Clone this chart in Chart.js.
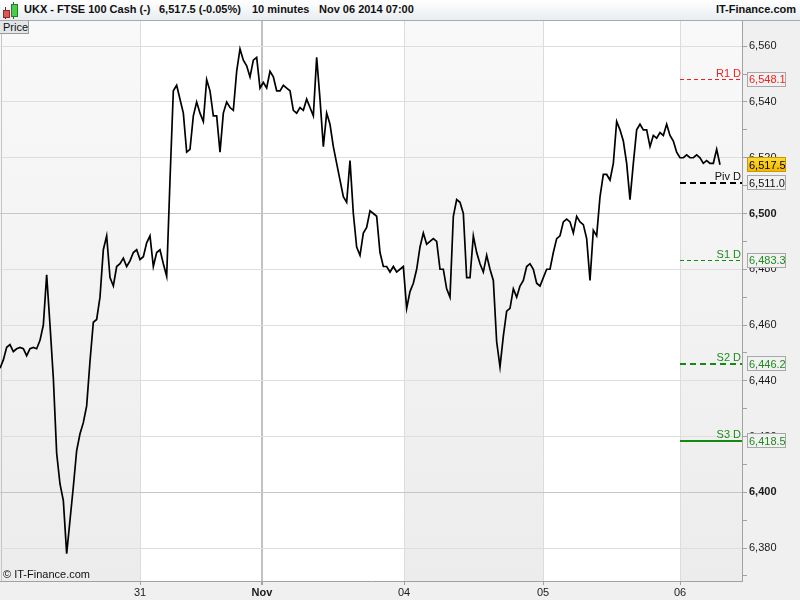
<!DOCTYPE html>
<html>
<head>
<meta charset="utf-8">
<title>UKX - FTSE 100 Cash</title>
<script src="https://cdn.jsdelivr.net/npm/chart.js@4.4.0/dist/chart.umd.min.js"></script>
<style>
  body { margin: 0; background: #f0f0f0; font-family: "Liberation Sans", Arial, sans-serif; }
  #wrap { position: relative; width: 800px; height: 600px; overflow: hidden; }
  #chart { position: absolute; left: 0; top: 0; }
  #head { position: absolute; left: 0; top: 0; width: 800px; height: 21px; box-sizing: border-box;
          background: linear-gradient(#ffffff, #e9edf0); border-bottom: 1px solid #a9a9a9;
          font-size: 11px; font-weight: bold; color: #111; }
  #head span { position: absolute; top: 3px; white-space: nowrap; }
  .candle { position: absolute; }
  #price-tag { position: absolute; left: 0; top: 21px; width: 29px; height: 13px; background: #e3e6e9;
               border-right: 1px solid #9a9a9a; border-bottom: 1px solid #9a9a9a;
               font-size: 11px; line-height: 13px; padding-left: 3px; box-sizing: border-box; color: #111; }
  #copy { position: absolute; left: 3px; top: 568px; font-size: 11px; color: #111; }
</style>
</head>
<body>
<div id="wrap">
  <canvas id="chart" width="800" height="600"></canvas>
  <div id="head">
    <div class="candle" style="left:5px;top:7px;width:1px;height:12px;background:#7a2020"></div>
    <div class="candle" style="left:3px;top:10px;width:5px;height:6px;background:#e05555;border:1px solid #8a2a2a"></div>
    <div class="candle" style="left:13px;top:2px;width:1px;height:17px;background:#1f6a1f"></div>
    <div class="candle" style="left:11px;top:4px;width:5px;height:11px;background:#4ccc4c;border:1px solid #2a7a2a"></div>
    <span style="left:24px">UKX - FTSE 100 Cash (-)</span>
    <span style="left:159px">6,517.5 (-0.05%)</span>
    <span style="left:252px">10 minutes</span>
    <span style="left:319px">Nov 06 2014 07:00</span>
    <span style="right:4px">IT-Finance.com</span>
  </div>
  <div id="price-tag">Price</div>
  <div id="copy">© IT-Finance.com</div>
</div>
<script>
// 10-minute closes, one value every ~3.3 px
var price = [
  6444.5, 6447.5, 6452, 6453, 6450.5, 6451.5, 6452, 6451.5, 6449, 6451.5,
  6452, 6451.5, 6454.5, 6460, 6478, 6460, 6441, 6414, 6403, 6397,
  6378, 6390, 6402, 6415, 6421, 6425, 6431, 6447, 6461, 6462,
  6470, 6487, 6492, 6477, 6474, 6481, 6482, 6484, 6481, 6483,
  6486, 6487, 6483.5, 6484.5, 6489.5, 6492, 6481, 6486, 6487, 6482,
  6477.5, 6512, 6544, 6546, 6541, 6536, 6522, 6523, 6535, 6540,
  6536, 6533, 6548, 6544, 6535, 6535, 6522, 6536, 6540, 6538,
  6537, 6551, 6559, 6555, 6553, 6549, 6555, 6556, 6545, 6547,
  6545, 6551, 6549, 6544, 6544, 6546, 6545, 6544, 6537, 6536,
  6538, 6537, 6541, 6538, 6535, 6556, 6541, 6524, 6536, 6532,
  6524, 6518, 6512, 6506, 6504, 6519, 6500, 6488, 6485, 6493,
  6495, 6501, 6500, 6499, 6486, 6481, 6481, 6479, 6481, 6479,
  6480, 6481, 6466, 6472, 6475, 6480, 6488, 6493, 6489, 6490,
  6491, 6490, 6480, 6480, 6473, 6470, 6499, 6505, 6504, 6500,
  6477, 6477, 6492, 6486, 6482, 6479, 6485, 6480, 6476, 6454,
  6445, 6456, 6465, 6466, 6473, 6470, 6474, 6476, 6481, 6482,
  6480, 6475, 6474, 6477, 6480, 6480, 6486, 6491, 6492, 6497,
  6498, 6497, 6493, 6499, 6497, 6496, 6491, 6476, 6494, 6492,
  6506, 6514, 6514, 6512, 6518, 6533, 6530, 6526, 6518, 6505,
  6518, 6530, 6532, 6530, 6530, 6524, 6528, 6527, 6529, 6528,
  6532, 6528, 6526, 6522, 6520, 6520, 6521, 6520, 6520, 6521,
  6520, 6518, 6519, 6518, 6518, 6523, 6517.5
];

// where each new day starts (in bar units) and its axis label
var dayStarts = [42, 78.6, 121.2, 162.9, 204];
var dayLabels = ['31', 'Nov', '04', '05', '06'];
var shadedDays = [true, false, false, true, false, true];
var xEnd = 222.6;

var yMin = 6368.2;
var yMax = 6569.4;

var pivotNames = ['R1 D', 'Piv D', 'S1 D', 'S2 D', 'S3 D'];
var pivotValues = [6548.1, 6511.0, 6483.3, 6446.2, 6418.5];
var lastPrice = 6517.5;

var FONT = '"Liberation Sans", Arial, sans-serif';

function fmt(v, dec) {
  return v.toLocaleString('en-US', {minimumFractionDigits: dec, maximumFractionDigits: dec});
}

var pivotStyle = [
  {color: '#f01e1e', text: '#f01e1e', width: 1, dash: [4, 3]},
  {color: '#000000', text: '#111111', width: 2, dash: [6, 4]},
  {color: '#138a13', text: '#1e8a1e', width: 1, dash: [4, 3]},
  {color: '#138a13', text: '#1e8a1e', width: 2, dash: [6, 4]},
  {color: '#138a13', text: '#1e8a1e', width: 2, dash: []}
];

function drawBox(ctx, x, y, text, fill, border, color) {
  var w = 39, h = 15;
  ctx.fillStyle = fill;
  ctx.fillRect(x, Math.round(y - h / 2), w, h);
  ctx.strokeStyle = border;
  ctx.lineWidth = 1;
  ctx.setLineDash([]);
  ctx.strokeRect(x + 0.5, Math.round(y - h / 2) + 0.5, w - 1, h - 1);
  ctx.fillStyle = color;
  ctx.textAlign = 'left';
  ctx.textBaseline = 'middle';
  ctx.fillText(text, x + 2, Math.round(y) + 1);
}

var overlay = {
  id: 'overlay',
  beforeDraw: function(chart) {
    var ctx = chart.ctx, a = chart.chartArea, x = chart.scales.x;
    var bounds = [0].concat(dayStarts, [xEnd]);
    ctx.save();
    for (var d = 0; d < bounds.length - 1; d++) {
      var x0 = x.getPixelForValue(bounds[d]);
      var x1 = x.getPixelForValue(bounds[d + 1]);
      if (shadedDays[d]) {
        var g = ctx.createLinearGradient(0, a.top, 0, a.bottom);
        g.addColorStop(0, '#f9f9f9');
        g.addColorStop(1, '#ececec');
        ctx.fillStyle = g;
      } else {
        ctx.fillStyle = '#ffffff';
      }
      ctx.fillRect(x0, a.top, x1 - x0, a.bottom - a.top);
    }
    // left frame line
    ctx.fillStyle = '#c4c4c4';
    ctx.fillRect(a.left + 1, a.top, 1, a.bottom - a.top);
    ctx.restore();
  },
  afterDatasetsDraw: function(chart) {
    var ctx = chart.ctx, a = chart.chartArea, x = chart.scales.x, y = chart.scales.y;
    var xs = x.getPixelForValue(dayStarts[dayStarts.length - 1]);
    ctx.save();
    ctx.font = '11px ' + FONT;
    for (var i = 0; i < pivotValues.length; i++) {
      var st = pivotStyle[i];
      var py = Math.round(y.getPixelForValue(pivotValues[i])) + (st.width === 1 ? 0.5 : 0);
      ctx.strokeStyle = st.color;
      ctx.lineWidth = st.width;
      ctx.setLineDash(st.dash);
      ctx.beginPath();
      ctx.moveTo(xs, py);
      ctx.lineTo(a.right, py);
      ctx.stroke();
      ctx.fillStyle = st.text;
      ctx.textAlign = 'right';
      ctx.textBaseline = 'alphabetic';
      ctx.fillText(pivotNames[i], a.right - 1, py - 3);
    }
    ctx.restore();
  },
  afterDraw: function(chart) {
    var ctx = chart.ctx, a = chart.chartArea, y = chart.scales.y;
    ctx.save();
    ctx.font = '11px ' + FONT;
    for (var i = 0; i < pivotValues.length; i++) {
      drawBox(ctx, a.right + 5, y.getPixelForValue(pivotValues[i]), fmt(pivotValues[i], 1),
              '#f1f1f1', '#a8a8a8', pivotStyle[i].text);
    }
    var ly = y.getPixelForValue(lastPrice);
    var g = ctx.createLinearGradient(0, ly - 7, 0, ly + 7);
    g.addColorStop(0, '#ffd92e');
    g.addColorStop(1, '#f2b600');
    drawBox(ctx, a.right + 5, ly, fmt(lastPrice, 1), g, '#c99a00', '#000000');
    ctx.restore();
  }
};

var ctx = document.getElementById('chart');

var chart = new Chart(ctx, {
  type: 'line',
  data: {
    datasets: [{
      label: 'Price',
      data: price.map(function(p, i) { return {x: i, y: p}; }),
      borderColor: '#000000',
      borderWidth: 1.7,
      pointRadius: 0,
      tension: 0,
      fill: false
    }]
  },
  options: {
    responsive: false,
    animation: false,
    events: [],
    layout: {padding: {top: 20, left: 0, right: 0, bottom: 0}},
    plugins: {legend: {display: false}, tooltip: {enabled: false}},
    scales: {
      x: {
        type: 'linear',
        min: 0,
        max: xEnd,
        afterFit: function(s) { s.height = 19; },
        afterBuildTicks: function(s) {
          s.ticks = dayStarts.map(function(v) { return {value: v}; });
        },
        border: {color: '#a2a2a2'},
        grid: {
          color: function(c) { return c.index === 1 ? '#c2c2c2' : '#dcdcdc'; },
          lineWidth: function(c) { return c.index === 1 ? 2 : 1; },
          tickColor: '#a2a2a2',
          tickLength: 4
        },
        ticks: {
          autoSkip: false,
          maxRotation: 0,
          padding: 1,
          color: '#1a1a1a',
          font: function(c) {
            return {family: FONT, size: 11, weight: c.index === 1 ? 'bold' : 'normal'};
          },
          callback: function(v, i) { return dayLabels[i]; }
        }
      },
      y: {
        position: 'right',
        min: yMin,
        max: yMax,
        afterFit: function(s) { s.width = 58; },
        border: {color: '#a2a2a2'},
        grid: {
          color: function(c) {
            var v = Math.round(c.tick.value);
            if (v % 20 !== 0) return 'rgba(0,0,0,0)';
            return v % 100 === 0 ? '#c6c6c6' : '#dedede';
          },
          tickColor: '#a2a2a2',
          tickLength: 5
        },
        ticks: {
          stepSize: 10,
          includeBounds: false,
          padding: 2,
          color: '#1a1a1a',
          font: function(c) {
            var v = c.tick ? Math.round(c.tick.value) : 0;
            return {family: FONT, size: 11, weight: v % 100 === 0 ? 'bold' : 'normal'};
          },
          callback: function(v) {
            v = Math.round(v);
            return v % 20 === 0 ? fmt(v, 0) : '';
          }
        }
      }
    }
  },
  plugins: [overlay]
});
</script>
</body>
</html>
